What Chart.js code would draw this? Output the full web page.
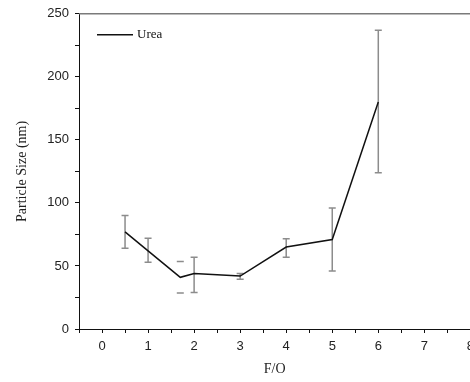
<!DOCTYPE html>
<html>
<head>
<meta charset="utf-8">
<script src="https://cdn.jsdelivr.net/npm/chart.js@4.4.1/dist/chart.umd.min.js"></script>
<style>
  html, body { margin: 0; padding: 0; background: #fff; overflow: hidden; }
  #wrap { width: 470px; height: 382px; overflow: hidden; }
  canvas { display: block; }
</style>
</head>
<body>
<div id="wrap"><canvas id="size-chart" width="480" height="382"></canvas></div>
<script>
// F/O ratio vs particle size, urea series
const foRatio = [0.5, 1, 1.7, 2, 3, 4, 5, 6];
const particleSize = [77, 62, 41, 44, 42, 65, 71, 180];
const errUpper = [90, 72, 53.5, 57, 44, 71.5, 96, 237];
const errLower = [64, 53, 28.5, 29, 39.5, 57, 46, 124];
const seriesName = 'Urea';

const capsOnlyIndex = 2; // this point only shows its caps

const errorBars = {
  id: 'errorBars',
  beforeDatasetsDraw(chart) {
    const {ctx, scales: {x, y}} = chart;
    ctx.save();
    ctx.strokeStyle = '#8c8c8c';
    ctx.lineWidth = 1.5;
    foRatio.forEach((v, i) => {
      const px = x.getPixelForValue(v);
      const top = y.getPixelForValue(errUpper[i]);
      const bot = y.getPixelForValue(errLower[i]);
      ctx.beginPath();
      if (i !== capsOnlyIndex) {
        ctx.moveTo(px, top);
        ctx.lineTo(px, bot);
      }
      ctx.moveTo(px - 3.5, top);
      ctx.lineTo(px + 3.5, top);
      ctx.moveTo(px - 3.5, bot);
      ctx.lineTo(px + 3.5, bot);
      ctx.stroke();
    });
    ctx.restore();
  }
};

const frameAndLegend = {
  id: 'frameAndLegend',
  afterDraw(chart) {
    const {ctx, chartArea: a} = chart;
    ctx.save();
    // top frame line
    ctx.strokeStyle = '#7a7a7a';
    ctx.lineWidth = 1.5;
    ctx.beginPath();
    ctx.moveTo(a.left, a.top);
    ctx.lineTo(a.right, a.top);
    ctx.stroke();
    // legend entry
    const ly = a.top + 21;
    ctx.strokeStyle = '#111';
    ctx.lineWidth = 1.5;
    ctx.beginPath();
    ctx.moveTo(a.left + 18, ly);
    ctx.lineTo(a.left + 54, ly);
    ctx.stroke();
    ctx.fillStyle = '#111';
    ctx.font = '13px "Liberation Serif"';
    ctx.textBaseline = 'middle';
    ctx.fillText(chart.data.datasets[0].label, a.left + 58, ly);
    ctx.restore();
  }
};

const tickFont = { family: 'Liberation Sans', size: 13 };

new Chart(document.getElementById('size-chart'), {
  type: 'line',
  data: {
    datasets: [{
      label: seriesName,
      data: foRatio.map((v, i) => ({ x: v, y: particleSize[i] })),
      borderColor: '#111',
      borderWidth: 1.5,
      pointRadius: 0,
      tension: 0,
      fill: false
    }]
  },
  options: {
    responsive: false,
    animation: false,
    devicePixelRatio: 1,
    layout: { padding: { top: 13, right: 7, left: 0, bottom: 0 } },
    plugins: { legend: { display: false }, tooltip: { enabled: false } },
    scales: {
      x: {
        type: 'linear',
        min: -0.5,
        max: 8,
        afterFit: s => { s.height = 53; },
        border: { color: '#111', width: 1 },
        grid: { drawOnChartArea: false, tickLength: 4, color: '#111' },
        ticks: {
          stepSize: 0.5,
          autoSkip: false,
          maxRotation: 0,
          padding: 6,
          color: '#222',
          font: tickFont,
          callback: v => (Number.isInteger(v) && v >= 0 ? v : '')
        },
        title: {
          display: true,
          text: 'F/O',
          color: '#222',
          font: { family: 'Liberation Serif', size: 14 },
          padding: { top: 0, bottom: 4 }
        }
      },
      y: {
        min: 0,
        max: 250,
        afterFit: s => { s.width = 79; },
        border: { color: '#111', width: 1 },
        grid: { drawOnChartArea: false, tickLength: 4, color: '#111' },
        ticks: {
          stepSize: 25,
          autoSkip: false,
          padding: 6,
          color: '#222',
          font: tickFont,
          callback: v => (v % 50 === 0 ? v : '')
        },
        title: {
          display: true,
          text: 'Particle Size (nm)',
          color: '#222',
          font: { family: 'Liberation Serif', size: 14 },
          padding: { top: 14, bottom: 0 }
        }
      }
    }
  },
  plugins: [errorBars, frameAndLegend]
});
</script>
</body>
</html>
